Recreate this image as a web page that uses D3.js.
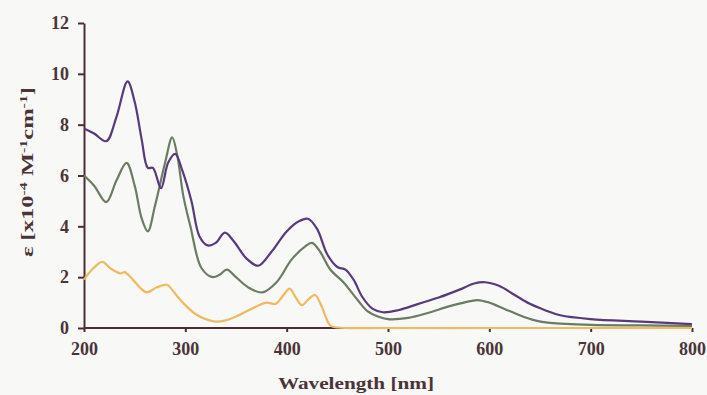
<!DOCTYPE html>
<meta charset="utf-8">
<style>
body { margin: 0; background: #f8f8f6; }
svg { display: block; }
.axis path, .axis line { stroke: #4a2e36; stroke-width: 2px; }
.axis text { font-family: "Liberation Serif", serif; font-weight: bold; font-size: 18px; fill: #4a3438; }
.label { font-family: "Liberation Serif", serif; font-weight: bold; font-size: 17px; fill: #4a3438; }
.spec { fill: none; stroke-width: 2.2px; stroke-linejoin: round; }
</style>
<body>
<script src="https://d3js.org/d3.v7.min.js"></script>
<script>

// spectra
var purpleWl  = [200,210,222,232,243,250,257,263,268,276,283,290,297,306,314,322,330,339,348,360,372,385,400,412,421,430,440,450,458,466,475,485,495,510,530,550,570,585,596,610,625,640,655,670,700,750,800];
var purpleEps = [7.85,7.65,7.35,8.3,9.7,8.9,7.4,6.3,6.3,5.5,6.5,6.85,6.2,5.0,3.6,3.25,3.35,3.75,3.4,2.75,2.45,3.0,3.8,4.2,4.3,3.9,2.9,2.4,2.3,1.9,1.2,0.75,0.62,0.7,0.95,1.2,1.5,1.75,1.8,1.65,1.3,0.95,0.7,0.5,0.35,0.25,0.15];

var greenWl  = [200,210,222,232,242,250,257,263,270,280,287,292,298,305,316,327,334,341,350,362,376,390,405,418,425,433,443,456,470,480,490,500,520,540,560,575,588,600,615,630,645,660,700,750,800];
var greenEps = [6.0,5.6,4.95,5.8,6.5,5.6,4.3,3.8,4.8,6.5,7.5,6.8,5.2,4.0,2.35,2.0,2.1,2.3,2.0,1.6,1.4,1.8,2.7,3.2,3.35,3.0,2.3,1.8,1.1,0.65,0.45,0.35,0.4,0.6,0.85,1.0,1.1,1.0,0.75,0.5,0.3,0.2,0.12,0.1,0.08];

var orangeWl  = [200,208,218,226,236,240,246,255,262,272,282,287,293,300,310,320,330,340,350,365,380,389,397,403,409,415,422,428,434,443,450,500,600,700,800];
var orangeEps = [1.9,2.3,2.6,2.35,2.15,2.2,2.0,1.6,1.4,1.6,1.7,1.5,1.2,0.9,0.55,0.35,0.25,0.3,0.45,0.75,1.0,0.95,1.3,1.55,1.2,0.9,1.15,1.3,0.9,0.1,0.02,0,0,0,0];

var xTicks = [200,300,400,500,600,700,800];
var yTicks = [0,2,4,6,8,10,12];

var width = 707, height = 395;

var x = d3.scaleLinear().domain([200, 800]).range([84, 692]);
var y = d3.scaleLinear().domain([0, 12]).range([328, 23]);

var svg = d3.select("body").append("svg")
    .attr("width", width)
    .attr("height", height);

var line = d3.line()
    .x(function(d) { return x(d[0]); })
    .y(function(d) { return y(d[1]); })
    .curve(d3.curveCatmullRom);

var series = [
  {wl: orangeWl, eps: orangeEps, color: "#f0b962"},
  {wl: greenWl, eps: greenEps, color: "#6a7d62"},
  {wl: purpleWl, eps: purpleEps, color: "#583a7c"}
];

svg.append("g")
    .attr("class", "axis")
    .attr("transform", "translate(0,328)")
    .call(d3.axisBottom(x).tickValues(xTicks).tickSize(4).tickSizeOuter(0).tickPadding(10))
    .call(function(g) { g.select(".domain").attr("d", "M84,0H692"); });

svg.append("g")
    .attr("class", "axis")
    .attr("transform", "translate(84,0)")
    .call(d3.axisLeft(y).tickValues(yTicks).tickSize(6).tickSizeOuter(0).tickPadding(9));

series.forEach(function(s) {
  svg.append("path")
      .datum(d3.zip(s.wl, s.eps))
      .attr("class", "spec")
      .attr("stroke", s.color)
      .attr("d", line);
});

svg.append("text")
    .attr("class", "label")
    .attr("x", 356)
    .attr("y", 389)
    .attr("text-anchor", "middle")
    .attr("textLength", 156)
    .attr("lengthAdjust", "spacingAndGlyphs")
    .text("Wavelength [nm]");

var yl = svg.append("text")
    .attr("class", "label")
    .attr("transform", "translate(33,172) rotate(-90)")
    .attr("text-anchor", "middle")
    .attr("textLength", 170)
    .attr("lengthAdjust", "spacingAndGlyphs");
yl.append("tspan").text("ε [x10");
yl.append("tspan").attr("dy", -6).attr("font-size", 11).text("-4");
yl.append("tspan").attr("dy", 6).text(" M");
yl.append("tspan").attr("dy", -6).attr("font-size", 11).text("-1");
yl.append("tspan").attr("dy", 6).text("cm");
yl.append("tspan").attr("dy", -6).attr("font-size", 11).text("-1");
yl.append("tspan").attr("dy", 6).text("]");

</script>
